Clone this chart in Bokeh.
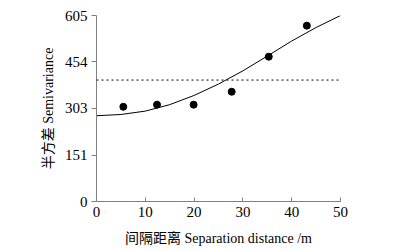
from bokeh.plotting import figure
from bokeh.models import Span, FixedTicker, Range1d
from bokeh.embed import file_html
from bokeh.resources import INLINE

# observed semivariance
lag = [5.5, 12.4, 19.9, 27.7, 35.3, 43.1]
semivar = [308, 315, 315, 357, 471, 572]
# fitted model curve
curve_x = [0, 5, 10, 15, 20, 25, 30, 35, 40, 45, 50]
curve_y = [279, 283, 294, 315, 345, 382, 425, 473, 522, 566, 605]
sill = 395
y_ticks = [0, 151, 303, 454, 605]
x_ticks = [0, 10, 20, 30, 40, 50]

FONT = "Liberation Serif, Noto Sans CJK SC"

p = figure(width=396, height=248, output_backend="svg", toolbar_location=None,
           x_range=Range1d(0, 50), y_range=Range1d(0, 605),
           min_border_left=96, min_border_right=56, min_border_top=15, min_border_bottom=45)
p.outline_line_color = None
p.grid.visible = False
p.background_fill_color = "white"

p.line(curve_x, curve_y, line_color="black", line_width=1)
p.add_layout(Span(location=sill, dimension="width", line_color="black",
                  line_dash="2 3", line_width=1))
p.scatter(lag, semivar, size=7, color="black")

p.xaxis.ticker = FixedTicker(ticks=x_ticks)
p.yaxis.ticker = FixedTicker(ticks=y_ticks)
p.xaxis.axis_label = "间隔距离 Separation distance /m"
p.yaxis.axis_label = "半方差 Semivariance"
for ax in (p.xaxis, p.yaxis):
    ax.axis_line_color = "#808080"
    ax.major_tick_line_color = "#808080"
    ax.minor_tick_line_color = None
    ax.major_label_text_font = FONT
    ax.major_label_text_font_size = "15px"
    ax.major_label_text_color = "black"
    ax.axis_label_text_font = FONT
    ax.axis_label_text_font_size = "14px"
    ax.axis_label_text_font_style = "normal"
    ax.axis_label_text_color = "black"
p.xaxis.major_tick_in = 4
p.xaxis.major_tick_out = 0
p.yaxis.major_tick_in = 0
p.yaxis.major_tick_out = 5
p.xaxis.axis_label_standoff = 11
p.yaxis.axis_label_standoff = 6
p.xaxis.major_label_standoff = 5
p.yaxis.major_label_standoff = 4

open("out.html", "w").write(file_html(p, INLINE))
